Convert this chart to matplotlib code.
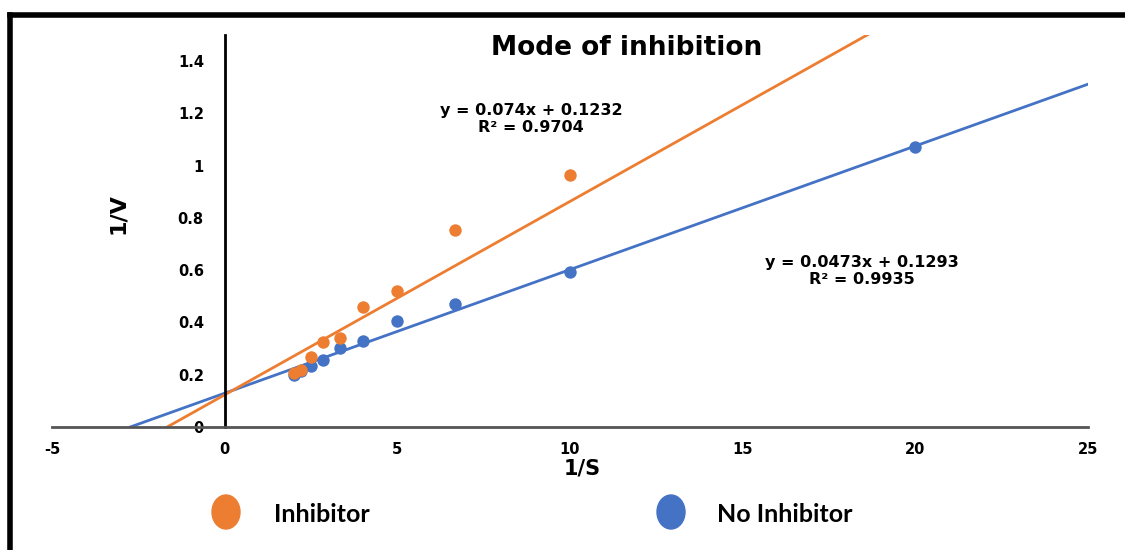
import numpy as np
import matplotlib
matplotlib.use("Agg")
import matplotlib.pyplot as plt
from matplotlib.patches import Ellipse
from matplotlib.lines import Line2D

# Lineweaver-Burk data
inv_s = [2.0, 2.22, 2.5, 2.86, 3.33, 4.0, 5.0, 6.67, 10.0, 20.0]
inv_v_noinh = [0.200, 0.213, 0.235, 0.258, 0.303, 0.328, 0.404, 0.472, 0.595, 1.073]
inv_s_inh = [2.0, 2.22, 2.5, 2.86, 3.33, 4.0, 5.0, 6.67, 10.0]
inv_v_inh = [0.208, 0.219, 0.268, 0.324, 0.341, 0.459, 0.522, 0.755, 0.963]

# trendline coefficients (Excel labels)
fit_inh = (0.074, 0.1232, 0.9704)
fit_noinh = (0.0473, 0.1293, 0.9935)

xticks = [-5, 0, 5, 10, 15, 20, 25]
yticks = [0, 0.2, 0.4, 0.6, 0.8, 1, 1.2, 1.4]
ytick_labels = ["0", "0.2", "0.4", "0.6", "0.8", "1", "1.2", "1.4"]

ORANGE = "#ED7D31"
BLUE = "#4472C4"

W, H = 1125, 550
fig = plt.figure(figsize=(W / 100, H / 100), dpi=100)
ax = fig.add_axes([52 / W, 1 - 427 / H, (1088 - 52) / W, (427 - 35) / H])
ax.set_xlim(-5, 25)
ax.set_ylim(0, 1.5)

# trendlines, extended back to the x intercept
for (m, b, r2), col in [(fit_noinh, BLUE), (fit_inh, ORANGE)]:
    x0 = -b / m
    xs = np.array([x0, 25])
    ax.plot(xs, m * xs + b, color=col, lw=2, zorder=2)

ax.scatter(inv_s, inv_v_noinh, s=80, color=BLUE, zorder=3, linewidths=0)
ax.scatter(inv_s_inh, inv_v_inh, s=80, color=ORANGE, zorder=3, linewidths=0)

# axes through the origin
for sp in ["top", "right"]:
    ax.spines[sp].set_visible(False)
ax.spines["left"].set_position(("data", 0))
ax.spines["left"].set_color("black")
ax.spines["left"].set_linewidth(2)
ax.spines["bottom"].set_color("#555555")
ax.spines["bottom"].set_linewidth(2)

tick_font = dict(family="DejaVu Sans", weight="bold", size=10.5)
ax.set_xticks(xticks)
ax.set_xticklabels([str(t) for t in xticks], **tick_font)
ax.set_yticks(yticks)
ax.set_yticklabels(ytick_labels, **tick_font)
ax.tick_params(axis="both", length=0)
ax.tick_params(axis="x", pad=11)
ax.tick_params(axis="y", pad=15)

fig.text(627 / W, 1 - 48 / H, "Mode of inhibition", ha="center", va="center",
         fontsize=19, fontweight="bold", family="DejaVu Sans")
fig.text(582 / W, 1 - 469 / H, "1/S", ha="center", va="center",
         fontsize=15, fontweight="bold", family="DejaVu Sans")
fig.text(118 / W, 1 - 214 / H, "1/V", ha="center", va="center", rotation=90,
         fontsize=16, fontweight="bold", family="DejaVu Sans")

eq_font = dict(fontsize=11.5, fontweight="bold", family="DejaVu Sans",
               ha="center", va="center", linespacing=1.2)
fig.text(531 / W, 1 - 119 / H,
         "y = %sx + %s\nR² = %s" % (fit_inh[0], fit_inh[1], fit_inh[2]), **eq_font)
fig.text(862 / W, 1 - 271 / H,
         "y = %sx + %s\nR² = %s" % (fit_noinh[0], fit_noinh[1], fit_noinh[2]), **eq_font)

# legend at the bottom
for cx, col, label, tx in [(226, ORANGE, "Inhibitor", 274), (671, BLUE, "No Inhibitor", 717)]:
    fig.add_artist(Ellipse((cx / W, 1 - 512 / H), 28 / W, 34 / H,
                           transform=fig.transFigure, color=col))
    fig.text(tx / W, 1 - 514 / H, label, ha="left", va="center", fontsize=18,
             fontweight="bold", family=["Lato", "DejaVu Sans"])

# frame lines (top and left)
fig.add_artist(Line2D([10 / W, 1], [1 - 15 / H, 1 - 15 / H], transform=fig.transFigure,
                      color="black", lw=4))
fig.add_artist(Line2D([10 / W, 10 / W], [0, 1 - 15 / H], transform=fig.transFigure,
                      color="black", lw=4))

fig.savefig("out.png", dpi=100)
